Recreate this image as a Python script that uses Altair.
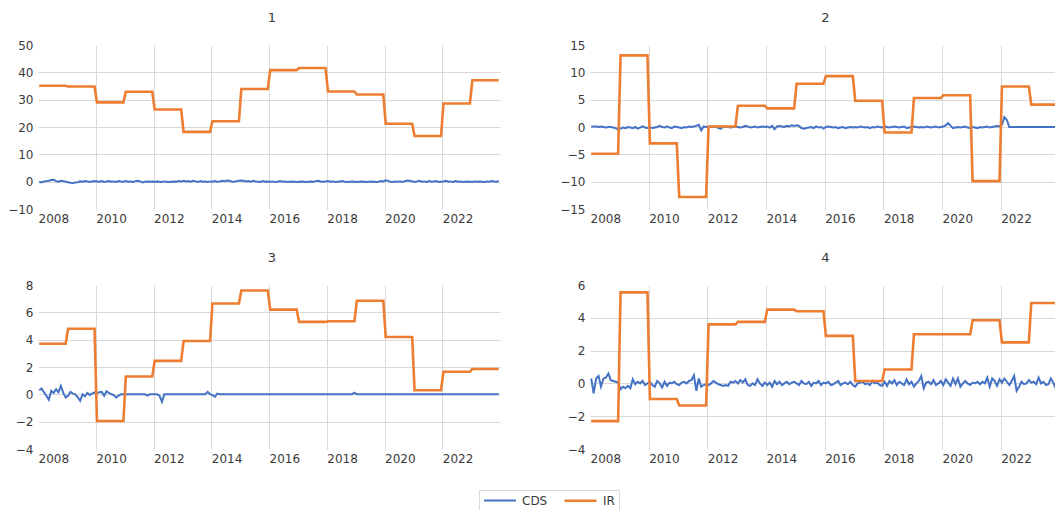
import altair as alt
import pandas as pd

# Monthly observations, January 2008 to December 2023
years = list(range(2008, 2024))

# Annual interest-rate levels (IR) for each of the four series
ir_1 = [35.1, 34.8, 29.0, 32.9, 26.4, 18.2, 22.1, 33.9, 40.8, 41.6, 33.0, 31.9, 21.2, 16.7, 28.6, 37.1]
ir_2 = [-4.9, 13.1, -3.0, -12.8, 0.1, 3.9, 3.4, 7.9, 9.3, 4.8, -1.0, 5.3, 5.8, -9.9, 7.4, 4.1]
ir_3 = [3.7, 4.8, -1.95, 1.3, 2.45, 3.9, 6.65, 7.6, 6.2, 5.3, 5.35, 6.85, 4.2, 0.3, 1.65, 1.85]
ir_4 = [-2.3, 5.55, -0.95, -1.35, 3.6, 3.75, 4.5, 4.4, 2.9, 0.15, 0.85, 3.0, 3.0, 3.85, 2.5, 4.9]

# Monthly CDS values, one row per year
cds_1 = [
    [0.0, -0.3, 0.1, 0.2, 0.3, 0.6, 0.7, 0.2, 0.0, 0.3, 0.2, 0.0],
    [-0.2, -0.4, -0.5, -0.3, -0.2, 0.1, 0.0, 0.2, 0.1, -0.1, 0.1, 0.2],
    [0.1, 0.0, 0.2, -0.1, 0.1, 0.2, 0.0, 0.1, -0.1, 0.2, 0.1, 0.0],
    [0.2, 0.0, 0.1, -0.1, 0.2, 0.3, 0.1, -0.3, 0.0, 0.1, 0.0, 0.1],
    [0.0, 0.1, 0.0, -0.1, 0.1, 0.0, -0.1, 0.0, 0.1, 0.0, 0.2, 0.1],
    [0.3, 0.1, 0.2, 0.0, 0.3, 0.1, -0.1, 0.2, 0.0, 0.1, -0.1, 0.1],
    [0.0, 0.2, 0.0, 0.1, 0.3, 0.2, 0.4, 0.3, 0.1, 0.0, 0.2, 0.3],
    [0.4, 0.3, 0.1, 0.2, 0.0, 0.3, 0.1, 0.0, -0.1, 0.2, 0.0, 0.1],
    [0.0, 0.1, -0.1, 0.0, 0.2, 0.0, 0.1, -0.1, 0.0, 0.1, 0.0, -0.1],
    [0.0, 0.1, 0.0, -0.1, 0.0, 0.1, 0.0, 0.2, 0.3, 0.1, 0.0, 0.1],
    [0.2, 0.0, 0.1, -0.1, 0.0, 0.1, 0.2, 0.0, -0.1, 0.0, 0.1, 0.0],
    [-0.1, 0.0, 0.1, 0.0, -0.1, 0.0, 0.1, 0.0, -0.1, 0.0, 0.2, 0.1],
    [0.5, 0.3, 0.0, -0.1, 0.1, 0.0, 0.1, -0.1, 0.2, 0.4, 0.3, 0.1],
    [-0.1, 0.1, 0.3, 0.0, 0.1, -0.1, 0.2, 0.0, 0.1, 0.2, -0.1, 0.0],
    [0.1, 0.3, 0.0, 0.1, -0.1, 0.2, 0.0, 0.1, -0.1, 0.0, 0.1, 0.0],
    [-0.1, 0.1, 0.0, 0.1, 0.0, -0.1, 0.1, 0.0, 0.2, 0.1, 0.0, 0.2],
]
cds_2 = [
    [0.1, 0.1, 0.1, 0.0, 0.1, 0.0, -0.1, 0.0, 0.0, -0.1, -0.2, -0.5],
    [-0.3, -0.1, -0.2, 0.0, -0.1, -0.2, 0.0, -0.3, -0.1, 0.1, -0.1, -0.2],
    [-0.1, -0.2, -0.1, 0.0, 0.2, 0.0, -0.1, 0.1, -0.1, -0.2, 0.1, 0.0],
    [-0.1, -0.2, 0.0, -0.1, 0.1, 0.0, 0.1, 0.2, 0.4, -0.6, 0.1, 0.0],
    [0.0, 0.1, 0.0, 0.1, -0.2, -0.3, 0.0, 0.1, 0.0, -0.1, 0.0, 0.1],
    [0.0, -0.1, 0.0, 0.2, 0.1, -0.1, 0.0, 0.1, -0.1, 0.0, 0.1, 0.0],
    [0.1, -0.1, 0.2, -0.4, 0.1, 0.2, 0.1, 0.0, 0.2, 0.1, 0.3, 0.2],
    [0.3, 0.2, -0.2, -0.3, -0.2, -0.1, 0.0, -0.2, 0.1, -0.1, 0.0, -0.3],
    [0.0, 0.1, 0.0, -0.1, 0.0, -0.2, -0.1, 0.0, -0.2, -0.1, 0.0, -0.1],
    [0.0, -0.1, 0.1, 0.0, -0.1, 0.0, -0.2, 0.0, -0.1, 0.1, 0.0, -0.1],
    [0.1, 0.0, -0.1, 0.0, 0.1, 0.0, -0.1, 0.0, 0.1, -0.2, -0.1, 0.0],
    [0.1, 0.0, -0.1, 0.0, -0.1, 0.1, 0.0, -0.1, 0.0, 0.1, -0.1, 0.0],
    [0.1, 0.3, 0.7, 0.2, -0.2, -0.1, 0.0, -0.1, 0.0, 0.1, -0.1, -0.2],
    [0.0, -0.1, -0.2, 0.0, -0.1, 0.0, 0.1, -0.1, 0.0, 0.1, 0.2, 0.1],
    [0.4, 1.8, 1.3, 0.0, 0.0, 0.0, 0.0, 0.0, 0.0, 0.0, 0.0, 0.0],
    [0.0, 0.0, 0.0, 0.0, 0.0, 0.0, 0.0, 0.0, 0.0, 0.0, 0.0, 0.0],
]
cds_3 = [
    [0.3, 0.43, 0.14, -0.1, -0.4, 0.26, 0.1, 0.38, 0.15, 0.62, 0.1, -0.23],
    [-0.1, 0.18, 0.05, 0.0, -0.2, -0.47, 0.0, -0.15, 0.1, -0.05, 0.05, 0.14],
    [0.1, 0.15, 0.18, -0.1, 0.23, 0.1, 0.0, -0.05, -0.23, -0.1, 0.0, 0.0],
    [0.0, 0.0, 0.0, 0.0, 0.0, 0.0, 0.0, 0.0, 0.0, -0.1, 0.0, 0.0],
    [0.0, 0.0, -0.1, -0.55, 0.0, 0.0, 0.0, 0.0, 0.0, 0.0, 0.0, 0.0],
    [0.0, 0.0, 0.0, 0.0, 0.0, 0.0, 0.0, 0.0, 0.0, 0.0, 0.18, 0.02],
    [-0.05, -0.18, 0.05, 0.0, 0.0, 0.0, 0.0, 0.0, 0.0, 0.0, 0.0, 0.0],
    [0.0, 0.0, 0.0, 0.0, 0.0, 0.0, 0.0, 0.0, 0.0, 0.0, 0.0, 0.0],
    [0.0, 0.0, 0.0, 0.0, 0.0, 0.0, 0.0, 0.0, 0.0, 0.0, 0.0, 0.0],
    [0.0, 0.0, 0.0, 0.0, 0.0, 0.0, 0.0, 0.0, 0.0, 0.0, 0.0, 0.0],
    [0.0, 0.0, 0.0, 0.0, 0.0, 0.0, 0.0, 0.0, 0.0, 0.0, 0.0, 0.12],
    [0.0, 0.0, 0.0, 0.0, 0.0, 0.0, 0.0, 0.0, 0.0, 0.0, 0.0, 0.0],
    [0.0, 0.0, 0.0, 0.0, 0.0, 0.0, 0.0, 0.0, 0.0, 0.0, 0.0, 0.0],
    [0.0, 0.0, 0.0, 0.0, 0.0, 0.0, 0.0, 0.0, 0.0, 0.0, 0.0, 0.0],
    [0.0, 0.0, 0.0, 0.0, 0.0, 0.0, 0.0, 0.0, 0.0, 0.0, 0.0, 0.0],
    [0.0, 0.0, 0.0, 0.0, 0.0, 0.0, 0.0, 0.0, 0.0, 0.0, 0.0, 0.0],
]
cds_4 = [
    [0.3, -0.6, 0.3, 0.45, -0.2, 0.3, 0.35, 0.6, 0.2, 0.15, 0.1, 0.05],
    [-0.35, -0.2, -0.3, -0.15, -0.3, 0.25, -0.05, 0.1, 0.0, 0.15, -0.1, 0.0],
    [0.1, -0.1, -0.2, 0.15, 0.0, -0.25, 0.1, -0.15, 0.05, 0.0, 0.1, -0.05],
    [-0.1, 0.05, 0.1, 0.0, 0.15, 0.2, 0.5, -0.45, 0.3, -0.2, -0.1, -0.05],
    [-0.1, 0.0, 0.15, 0.05, -0.05, -0.1, -0.15, -0.1, -0.15, 0.1, 0.05, 0.15],
    [0.0, 0.2, 0.05, 0.25, -0.1, -0.15, 0.0, -0.1, 0.25, 0.0, -0.15, 0.05],
    [-0.1, 0.05, -0.2, 0.15, -0.05, 0.1, -0.1, 0.0, 0.1, -0.05, 0.05, 0.1],
    [0.0, -0.1, 0.15, 0.0, -0.05, 0.1, -0.15, 0.05, 0.0, 0.15, -0.1, 0.05],
    [0.0, 0.1, -0.1, -0.05, 0.05, 0.15, -0.1, 0.0, 0.05, -0.05, 0.1, -0.1],
    [-0.2, 0.0, 0.05, 0.1, -0.05, 0.0, -0.1, 0.15, 0.0, 0.05, -0.1, -0.15],
    [0.1, -0.15, 0.15, 0.0, 0.2, -0.1, 0.1, 0.0, -0.1, 0.25, -0.05, 0.1],
    [-0.2, 0.0, 0.15, 0.45, -0.3, 0.05, 0.1, -0.05, 0.2, -0.1, 0.0, 0.15],
    [-0.1, 0.25, 0.05, -0.15, 0.3, -0.05, 0.3, -0.2, 0.0, 0.15, 0.0, -0.1],
    [0.05, 0.0, 0.1, -0.05, 0.1, 0.0, 0.35, -0.2, 0.3, 0.15, -0.15, 0.25],
    [0.05, 0.3, 0.1, -0.1, 0.15, 0.45, -0.45, -0.2, 0.1, -0.05, 0.0, 0.2],
    [0.05, 0.1, -0.05, 0.35, 0.0, 0.1, -0.1, -0.05, 0.3, 0.05, -0.3, 0.1],
]

series_names = ["CDS", "IR"]
series_colors = ["#4472C4", "#ED7D31"]
x_ticks = [2008, 2010, 2012, 2014, 2016, 2018, 2020, 2022]

FONT = "DejaVu Sans"
TEXT = "#3a3a3a"
GRID = "#d9d9d9"


def frame(cds, ir):
    rows = []
    for i, yr in enumerate(years):
        for m in range(12):
            t = yr + (m + 0.5) / 12
            rows.append({"t": t, "series": "CDS", "value": cds[i][m]})
            rows.append({"t": t, "series": "IR", "value": ir[i]})
    return pd.DataFrame(rows)


def panel(name, cds, ir, lo, hi, step, width, x_hi):
    y_ticks = list(range(lo, hi + 1, step))
    edge = f"datum.value == {lo} || datum.value == {hi}"
    return (
        alt.Chart(frame(cds, ir), title=alt.TitleParams(name, frame="group", dx=3))
        .mark_line(clip=True)
        .encode(
            x=alt.X(
                "t:Q",
                scale=alt.Scale(domain=[2008, x_hi], nice=False, zero=False),
                axis=alt.Axis(
                    values=x_ticks, format="d", title=None, labelAlign="left",
                    labelFlush=False, labelOverlap=False,
                    ticks=False, tickSize=0, domain=False, labelPadding=4,
                    gridOpacity={"condition": {"test": "datum.value == 2008", "value": 0}, "value": 1},
                    minExtent=20, maxExtent=20,
                ),
            ),
            y=alt.Y(
                "value:Q",
                scale=alt.Scale(domain=[lo, hi], nice=False, zero=False),
                axis=alt.Axis(
                    values=y_ticks, title=None, ticks=False, tickSize=0, domain=False,
                    labelPadding=5, labelOverlap=False, labelFlush=False,
                    gridOpacity={"condition": {"test": edge, "value": 0}, "value": 1},
                    minExtent=35, maxExtent=35,
                ),
            ),
            color=alt.Color(
                "series:N",
                scale=alt.Scale(domain=series_names, range=series_colors),
                legend=alt.Legend(title=None),
            ),
            strokeWidth=alt.StrokeWidth(
                "series:N", scale=alt.Scale(domain=series_names, range=[2.0, 2.6]), legend=None
            ),
        )
        .properties(width=width, height=164)
    )


p1 = panel("1", cds_1, ir_1, -10, 50, 10, 462, 2024)
p2 = panel("2", cds_2, ir_2, -15, 15, 5, 465, 2023.85)
p3 = panel("3", cds_3, ir_3, -4, 8, 2, 462, 2024)
p4 = panel("4", cds_4, ir_4, -4, 6, 2, 465, 2023.85)

chart = (
    alt.vconcat(
        alt.hconcat(p1, p2, spacing=55),
        alt.hconcat(p3, p4, spacing=55),
        spacing=23,
    )
    .properties(padding={"left": 3, "top": 12, "right": 0, "bottom": 0}, background="white")
    .configure_view(stroke=None)
    .configure_axis(
        labelFont=FONT, labelFontSize=12, labelColor=TEXT, gridColor=GRID, gridWidth=1
    )
    .configure_title(
        font=FONT, fontSize=13, color=TEXT, fontWeight="normal", anchor="middle", offset=14
    )
    .configure_legend(
        orient="none", legendX=441, legendY=445, direction="horizontal",
        # a long horizontal stroke drawn inside a small symbol cell
        symbolType="M-3.2,0H3.2", symbolSize=100, symbolStrokeWidth=2, symbolOffset=11,
        labelFont=FONT, labelFontSize=12, labelColor=TEXT, labelOffset=16,
        columnPadding=11, padding=4, strokeColor=GRID, cornerRadius=0,
    )
)

chart.save("out.html", embed_options={"renderer": "svg", "actions": False})
